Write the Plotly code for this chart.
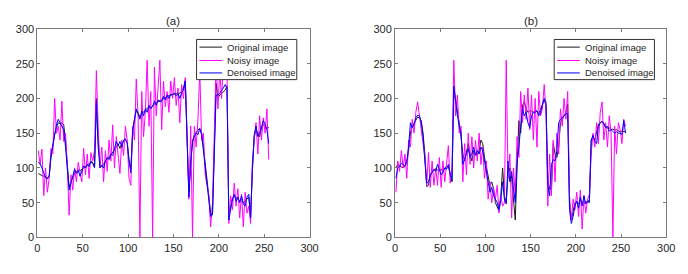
import plotly.graph_objects as go

# sample positions (pixel index along the image row)
x_pos = list(range(1, 257, 2))

# ---------- panel (a) ----------
orig_a = [92, 90, 89, 88, 87, 86, 88, 115, 130, 148, 158, 165, 163, 165, 162, 140,
          105, 72, 80, 86, 92, 95, 97, 96, 98, 100, 102, 104, 106, 108, 107, 102,
          200, 140, 105, 102, 106, 110, 113, 116, 119, 122, 126, 130, 134, 128, 135, 138,
          140, 138, 112, 98, 150, 170, 182, 180, 172, 178, 180, 183, 186, 188, 185, 190,
          192, 194, 196, 197, 198, 200, 202, 203, 204, 205, 206, 207, 207, 206, 208, 210,
          215, 226, 140, 65, 110, 135, 148, 152, 155, 156, 150, 130, 105, 80, 50, 35,
          32, 120, 222, 200, 205, 207, 210, 212, 218, 35, 45, 55, 60, 58, 55, 52,
          56, 50, 52, 55, 58, 30, 95, 145, 155, 150, 145, 158, 162, 160, 158, 158]
noisy_a = [125, 105, 127, 60, 100, 65, 85, 128, 120, 200, 150, 160, 140, 196, 138, 150,
           102, 32, 90, 68, 100, 80, 108, 92, 80, 128, 90, 120, 85, 122, 110, 125,
           240, 160, 100, 130, 80, 125, 95, 140, 110, 162, 100, 145, 120, 92, 140, 118,
           160, 140, 85, 75, 160, 140, 228, 175, 0, 210, 145, 180, 255, 160, 210, 0,
           245, 175, 215, 255, 155, 225, 188, 210, 180, 225, 200, 230, 190, 215, 165, 220,
           200, 230, 150, 55, 160, 0, 160, 130, 170, 240, 140, 150, 90, 75, 60, 15,
           50, 150, 255, 185, 240, 200, 250, 230, 240, 20, 60, 40, 78, 45, 70, 28,
           62, 15, 65, 35, 45, 20, 110, 140, 165, 120, 175, 140, 172, 150, 185, 112]
den_a = [108, 106, 100, 92, 86, 84, 88, 118, 135, 150, 162, 170, 165, 160, 155, 130,
         95, 68, 78, 90, 98, 92, 96, 88, 95, 103, 100, 105, 102, 110, 107, 100,
         195, 130, 100, 104, 100, 110, 115, 112, 120, 118, 128, 138, 132, 138, 130, 140,
         142, 135, 110, 93, 155, 172, 185, 178, 170, 182, 175, 185, 180, 190, 186, 188,
         196, 190, 198, 195, 196, 203, 198, 205, 200, 206, 205, 208, 204, 207, 200, 208,
         212, 225, 130, 58, 105, 140, 145, 150, 148, 157, 148, 125, 100, 78, 48, 30,
         35, 130, 205, 205, 207, 212, 215, 220, 215, 25, 42, 55, 62, 52, 58, 50,
         60, 48, 45, 58, 62, 28, 100, 148, 160, 145, 150, 160, 168, 163, 155, 135]

# ---------- panel (b) ----------
orig_b = [100, 105, 103, 102, 100, 102, 108, 125, 150, 160, 165, 170, 173, 172, 168, 150,
          120, 73, 75, 90, 95, 97, 98, 97, 96, 98, 95, 100, 102, 102, 90, 80,
          215, 200, 180, 165, 145, 120, 110, 125, 135, 120, 110, 125, 120, 118, 125, 140,
          135, 115, 100, 85, 75, 80, 70, 50, 45, 38, 60, 100, 60, 50, 90, 100,
          85, 60, 25, 100, 168, 150, 190, 195, 185, 180, 182, 182, 180, 183, 182, 178,
          185, 190, 198, 190, 80, 70, 70, 135, 120, 115, 130, 165, 170, 175, 180, 192,
          50, 25, 40, 50, 52, 48, 55, 50, 48, 52, 50, 55, 140, 145, 140, 150,
          163, 165, 167, 164, 160, 157, 158, 155, 156, 154, 155, 153, 152, 153, 152, 152]
noisy_b = [65, 110, 95, 125, 100, 120, 85, 140, 130, 170, 150, 180, 195, 175, 160, 140,
           115, 75, 122, 72, 110, 75, 100, 75, 115, 72, 110, 80, 108, 132, 78, 100,
           255, 175, 205, 150, 160, 80, 135, 90, 150, 105, 145, 100, 140, 110, 150, 105,
           130, 85, 110, 55, 80, 50, 70, 55, 75, 35, 60, 45, 50, 255, 85, 120,
           28, 100, 60, 145, 115, 210, 165, 205, 170, 215, 155, 205, 140, 200, 130, 210,
           175, 185, 220, 180, 45, 120, 60, 140, 80, 150, 120, 185, 160, 200, 170, 210,
           60, 25, 55, 40, 65, 30, 68, 12, 60, 35, 55, 62, 120, 150, 130, 165,
           135, 180, 195, 140, 165, 130, 175, 150, 0, 160, 120, 165, 155, 135, 170, 160]
den_b = [85, 100, 102, 107, 105, 103, 110, 130, 165, 158, 162, 172, 176, 175, 165, 145,
         110, 78, 80, 90, 93, 98, 95, 105, 98, 90, 94, 100, 98, 105, 92, 82,
         218, 195, 175, 160, 150, 105, 112, 118, 128, 115, 120, 130, 118, 125, 120, 130,
         125, 110, 95, 75, 65, 72, 60, 55, 50, 40, 55, 80, 55, 48, 110, 80,
         95, 70, 50, 110, 130, 160, 185, 175, 180, 165, 158, 175, 180, 180, 182, 175,
         180, 190, 200, 195, 75, 60, 105, 112, 110, 125, 165, 170, 172, 175, 178, 178,
         40, 20, 30, 45, 52, 42, 58, 45, 60, 48, 52, 50, 140, 147, 138, 135,
         160, 165, 167, 163, 158, 160, 153, 155, 152, 150, 152, 150, 150, 148, 168, 150]

series_names = ["Original image", "Noisy image", "Denoised image"]
colors = ["#1a1a1a", "#ff00ff", "#0000ff"]
titles = ["(a)", "(b)"]
ticks = [0, 50, 100, 150, 200, 250, 300]

FONT = "Liberation Sans, Arial, sans-serif"
TXT = "#262626"
AX = "#7a7a7a"
W, H = 688, 274

def px(x):
    return x / W

def py(y):
    return 1 - y / H

fig = go.Figure()
panels = [(orig_a, noisy_a, den_a), (orig_b, noisy_b, den_b)]
for p, data in enumerate(panels):
    xa = "x" if p == 0 else "x2"
    ya = "y" if p == 0 else "y2"
    for name, col, vals in zip(series_names, colors, data):
        fig.add_trace(go.Scatter(x=x_pos, y=vals, mode="lines", name=name,
                                 line=dict(color=col, width=1),
                                 xaxis=xa, yaxis=ya, showlegend=False))

ydom = [py(242), py(24)]
xdoms = [[px(35), px(312)], [px(399), px(675)]]

axis_common = dict(range=[0, 300], tickvals=ticks, ticks="inside", ticklen=3,
                   tickcolor=AX, showline=True, linecolor=AX, linewidth=1,
                   mirror="ticks", showgrid=False, zeroline=False,
                   tickfont=dict(family=FONT, size=11, color=TXT))

fig.update_layout(
    width=W, height=H,
    margin=dict(l=0, r=0, t=0, b=0),
    paper_bgcolor="white", plot_bgcolor="white",
    showlegend=False,
    xaxis=dict(domain=xdoms[0], anchor="y", **axis_common),
    yaxis=dict(domain=ydom, anchor="x", **axis_common),
    xaxis2=dict(domain=xdoms[1], anchor="y2", **axis_common),
    yaxis2=dict(domain=ydom, anchor="x2", **axis_common),
)

# panel titles
for p in range(2):
    cx = (xdoms[p][0] + xdoms[p][1]) / 2
    fig.add_annotation(text=titles[p], xref="paper", yref="paper", x=cx, y=py(16),
                       showarrow=False, xanchor="center", yanchor="middle",
                       font=dict(family=FONT, size=11.5, color=TXT))

# legend boxes (MATLAB style), one per panel
legend_left = [197, 561]
item_y = [43, 57, 70]
for lx in legend_left:
    fig.add_shape(type="rect", xref="paper", yref="paper",
                  x0=px(lx), x1=px(lx + 102), y0=py(77), y1=py(35),
                  fillcolor="white", line=dict(color="#333333", width=1), layer="above")
    for name, col, yy in zip(series_names, colors, item_y):
        fig.add_shape(type="line", xref="paper", yref="paper",
                      x0=px(lx + 3), x1=px(lx + 26), y0=py(yy), y1=py(yy),
                      line=dict(color=col, width=1), layer="above")
        fig.add_annotation(text=name, xref="paper", yref="paper", x=px(lx + 29), y=py(yy),
                           showarrow=False, xanchor="left", yanchor="middle",
                           font=dict(family=FONT, size=9.5, color=TXT))

fig.write_html("out.html", config={"displayModeBar": False},
               post_script="document.body.style.margin='0px';")
